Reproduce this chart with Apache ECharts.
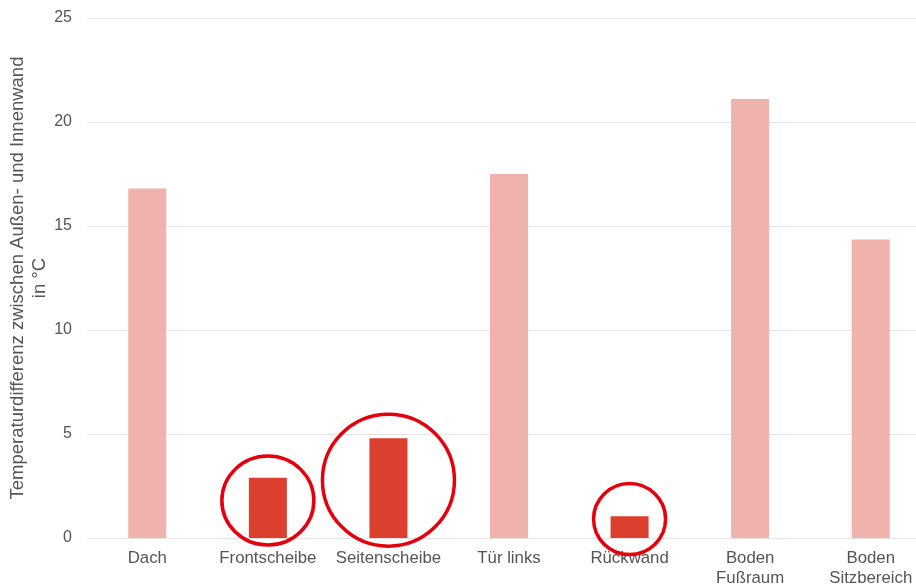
<!DOCTYPE html>
<html>
<head>
<meta charset="utf-8">
<script src="https://cdn.jsdelivr.net/npm/echarts@6/dist/echarts.min.js"></script>
<style>
html,body{margin:0;padding:0;background:#fff;}
#chart{width:916px;height:586px;}
</style>
</head>
<body>
<div id="chart"></div>
<script>
// Data
const categories = ['Dach', 'Frontscheibe', 'Seitenscheibe', 'Tür links', 'Rückwand', 'Boden\nFußraum', 'Boden\nSitzbereich'];
const values = [16.8, 2.9, 4.8, 17.5, 1.05, 21.1, 14.35];
const highlighted = ['Frontscheibe', 'Seitenscheibe', 'Rückwand'];
const yTicks = [0, 5, 10, 15, 20, 25];
// Annotation circles (category, centre value)
const circleCategories = ['Frontscheibe', 'Seitenscheibe', 'Rückwand'];
const circleCentres = [1.8, 2.78, 0.91];

const yAxisTitle = 'Temperaturdifferenz zwischen Außen- und Innenwand\nin °C';

const circleSizes = [[92, 89], [132, 132], [72, 71]];

const chart = echarts.init(document.getElementById('chart'), null, {renderer: 'canvas'});
const font = "'Liberation Sans', Arial, sans-serif";

const barData = values.map((v, i) => ({
  value: v,
  itemStyle: { color: highlighted.includes(categories[i]) ? '#db3f2d' : '#f0b2ac' }
}));

const circleData = circleCategories.map((c, i) => ({
  value: [c, circleCentres[i]],
  symbolSize: circleSizes[i]
}));

chart.setOption({
  animation: false,
  backgroundColor: '#ffffff',
  grid: { left: 87, right: -15, top: 18, bottom: 48, containLabel: false, outerBoundsMode: 'none' },
  xAxis: {
    type: 'category',
    data: categories,
    axisLine: { show: false },
    axisTick: { show: false },
    axisLabel: { color: '#555', fontSize: 16.8, fontFamily: font, margin: 10, lineHeight: 20, interval: 0 }
  },
  yAxis: {
    type: 'value',
    min: yTicks[0],
    max: yTicks[yTicks.length - 1],
    interval: yTicks[1] - yTicks[0],
    name: yAxisTitle,
    nameLocation: 'middle',
    nameGap: 36,
    nameMoveOverlap: false,
    nameTextStyle: { color: '#555', fontSize: 18.5, fontFamily: font, lineHeight: 22 },
    axisLine: { show: false },
    axisTick: { show: false },
    axisLabel: { color: '#555', fontSize: 16, fontFamily: font, margin: 15 },
    splitLine: { lineStyle: { color: '#e3e3e3', width: 1 } }
  },
  series: [
    {
      type: 'bar',
      data: barData,
      barWidth: 38,
      z: 2
    },
    {
      type: 'scatter',
      data: circleData,
      symbol: 'circle',
      silent: true,
      z: 5,
      itemStyle: { color: 'rgba(0,0,0,0)', borderColor: '#e5000d', borderWidth: 3.5, opacity: 1 }
    }
  ]
});
</script>
</body>
</html>
